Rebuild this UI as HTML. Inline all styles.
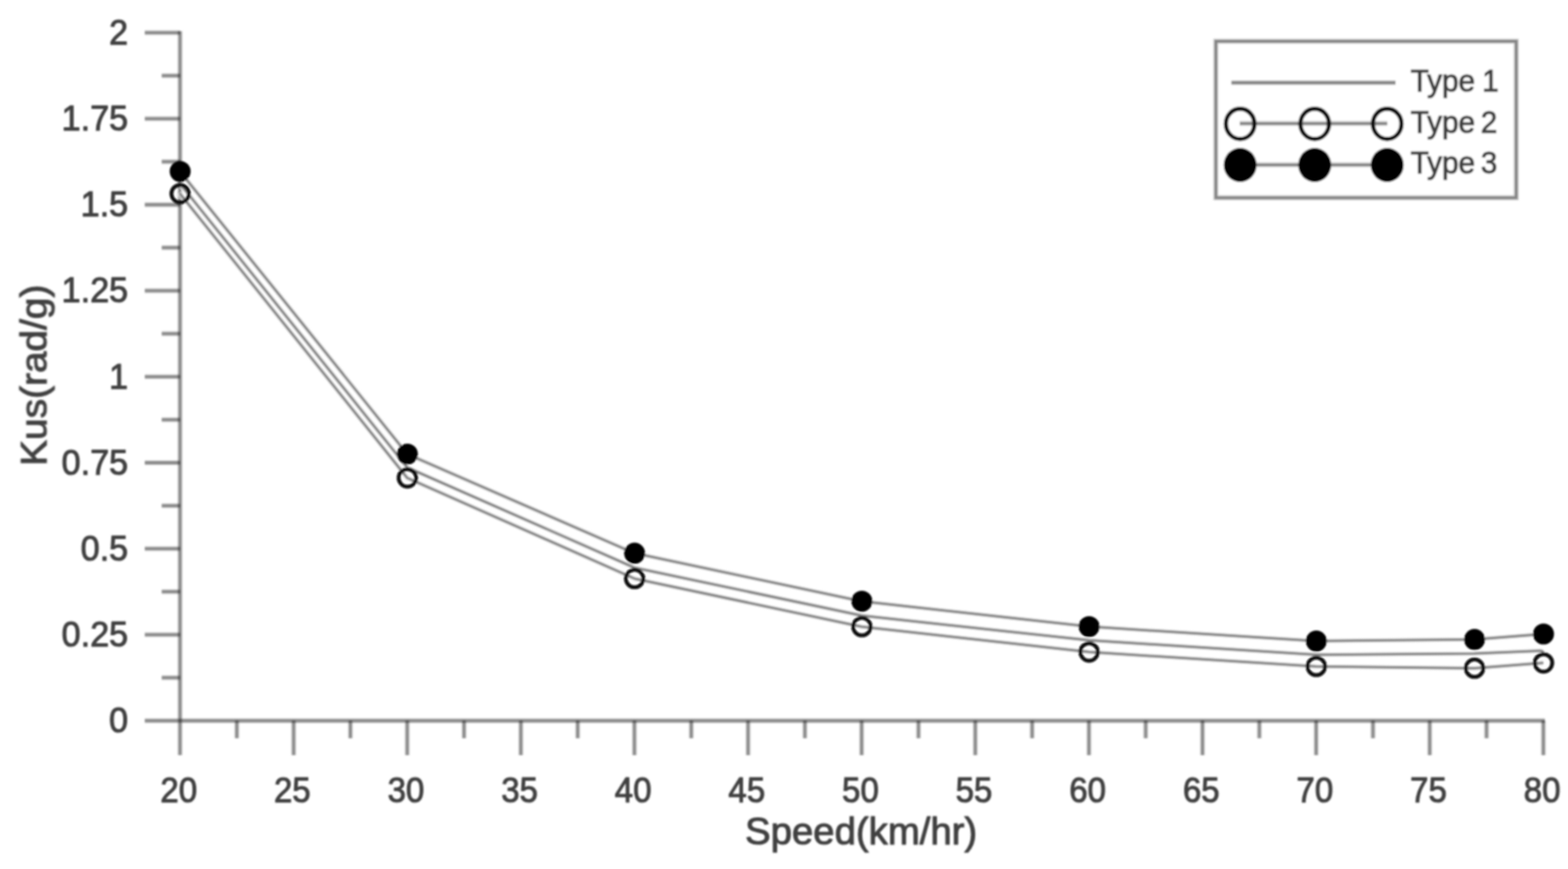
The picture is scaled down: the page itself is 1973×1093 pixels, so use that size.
<!DOCTYPE html>
<html lang="en">
<head>
<meta charset="utf-8">
<title>Kus vs Speed</title>
<style>
html,body{margin:0;padding:0;background:#fff;}
body{width:1973px;height:1093px;overflow:hidden;}
svg{display:block;}
text{font-family:"Liberation Sans",sans-serif;fill:#404040;stroke:#404040;stroke-width:1.2px;stroke-linejoin:round;}
.tick{font-size:45.2px;}
.xtick{font-size:44.5px;}
.ylab{font-size:46.7px;}
.lab{font-size:48.2px;}
.leg{font-size:38.0px;word-spacing:-3.2px;}
.leg1{word-spacing:-1.4px;}
</style>
</head>
<body>
<svg width="1973" height="1093" viewBox="0 0 1973 1093">
<defs><filter id="soft" x="-2%" y="-2%" width="104%" height="104%"><feGaussianBlur stdDeviation="1.2"/></filter></defs>
<rect x="0" y="0" width="1973" height="1093" fill="#ffffff"/>
<g filter="url(#soft)">
<g fill="none" stroke="#000000" stroke-opacity="0.15" stroke-width="6.6">
<line x1="226.5" y1="39.2" x2="226.5" y2="949.8"/>
<line x1="182.2" y1="906.5" x2="1943.9" y2="906.5"/>
<line x1="203.5" y1="852.4" x2="226.5" y2="852.4"/>
<line x1="182.2" y1="798.3" x2="226.5" y2="798.3"/>
<line x1="203.5" y1="744.2" x2="226.5" y2="744.2"/>
<line x1="182.2" y1="690.1" x2="226.5" y2="690.1"/>
<line x1="203.5" y1="636.1" x2="226.5" y2="636.1"/>
<line x1="182.2" y1="582.0" x2="226.5" y2="582.0"/>
<line x1="203.5" y1="527.9" x2="226.5" y2="527.9"/>
<line x1="182.2" y1="473.8" x2="226.5" y2="473.8"/>
<line x1="203.5" y1="419.7" x2="226.5" y2="419.7"/>
<line x1="182.2" y1="365.6" x2="226.5" y2="365.6"/>
<line x1="203.5" y1="311.5" x2="226.5" y2="311.5"/>
<line x1="182.2" y1="257.5" x2="226.5" y2="257.5"/>
<line x1="203.5" y1="203.4" x2="226.5" y2="203.4"/>
<line x1="182.2" y1="149.3" x2="226.5" y2="149.3"/>
<line x1="203.5" y1="95.2" x2="226.5" y2="95.2"/>
<line x1="182.2" y1="41.1" x2="226.5" y2="41.1"/>
<line x1="298.0" y1="906.5" x2="298.0" y2="928.5"/>
<line x1="369.5" y1="906.5" x2="369.5" y2="949.8"/>
<line x1="440.9" y1="906.5" x2="440.9" y2="928.5"/>
<line x1="512.4" y1="906.5" x2="512.4" y2="949.8"/>
<line x1="583.9" y1="906.5" x2="583.9" y2="928.5"/>
<line x1="655.4" y1="906.5" x2="655.4" y2="949.8"/>
<line x1="726.9" y1="906.5" x2="726.9" y2="928.5"/>
<line x1="798.3" y1="906.5" x2="798.3" y2="949.8"/>
<line x1="869.8" y1="906.5" x2="869.8" y2="928.5"/>
<line x1="941.3" y1="906.5" x2="941.3" y2="949.8"/>
<line x1="1012.8" y1="906.5" x2="1012.8" y2="928.5"/>
<line x1="1084.2" y1="906.5" x2="1084.2" y2="949.8"/>
<line x1="1155.7" y1="906.5" x2="1155.7" y2="928.5"/>
<line x1="1227.2" y1="906.5" x2="1227.2" y2="949.8"/>
<line x1="1298.7" y1="906.5" x2="1298.7" y2="928.5"/>
<line x1="1370.2" y1="906.5" x2="1370.2" y2="949.8"/>
<line x1="1441.6" y1="906.5" x2="1441.6" y2="928.5"/>
<line x1="1513.1" y1="906.5" x2="1513.1" y2="949.8"/>
<line x1="1584.6" y1="906.5" x2="1584.6" y2="928.5"/>
<line x1="1656.1" y1="906.5" x2="1656.1" y2="949.8"/>
<line x1="1727.6" y1="906.5" x2="1727.6" y2="928.5"/>
<line x1="1799.0" y1="906.5" x2="1799.0" y2="949.8"/>
<line x1="1870.5" y1="906.5" x2="1870.5" y2="928.5"/>
<line x1="1942.0" y1="906.5" x2="1942.0" y2="949.8"/>
</g>
<g fill="none" stroke="#000000" stroke-opacity="0.36" stroke-width="3.8">
<line x1="226.5" y1="39.2" x2="226.5" y2="949.8"/>
<line x1="182.2" y1="906.5" x2="1943.9" y2="906.5"/>
<line x1="203.5" y1="852.4" x2="226.5" y2="852.4"/>
<line x1="182.2" y1="798.3" x2="226.5" y2="798.3"/>
<line x1="203.5" y1="744.2" x2="226.5" y2="744.2"/>
<line x1="182.2" y1="690.1" x2="226.5" y2="690.1"/>
<line x1="203.5" y1="636.1" x2="226.5" y2="636.1"/>
<line x1="182.2" y1="582.0" x2="226.5" y2="582.0"/>
<line x1="203.5" y1="527.9" x2="226.5" y2="527.9"/>
<line x1="182.2" y1="473.8" x2="226.5" y2="473.8"/>
<line x1="203.5" y1="419.7" x2="226.5" y2="419.7"/>
<line x1="182.2" y1="365.6" x2="226.5" y2="365.6"/>
<line x1="203.5" y1="311.5" x2="226.5" y2="311.5"/>
<line x1="182.2" y1="257.5" x2="226.5" y2="257.5"/>
<line x1="203.5" y1="203.4" x2="226.5" y2="203.4"/>
<line x1="182.2" y1="149.3" x2="226.5" y2="149.3"/>
<line x1="203.5" y1="95.2" x2="226.5" y2="95.2"/>
<line x1="182.2" y1="41.1" x2="226.5" y2="41.1"/>
<line x1="298.0" y1="906.5" x2="298.0" y2="928.5"/>
<line x1="369.5" y1="906.5" x2="369.5" y2="949.8"/>
<line x1="440.9" y1="906.5" x2="440.9" y2="928.5"/>
<line x1="512.4" y1="906.5" x2="512.4" y2="949.8"/>
<line x1="583.9" y1="906.5" x2="583.9" y2="928.5"/>
<line x1="655.4" y1="906.5" x2="655.4" y2="949.8"/>
<line x1="726.9" y1="906.5" x2="726.9" y2="928.5"/>
<line x1="798.3" y1="906.5" x2="798.3" y2="949.8"/>
<line x1="869.8" y1="906.5" x2="869.8" y2="928.5"/>
<line x1="941.3" y1="906.5" x2="941.3" y2="949.8"/>
<line x1="1012.8" y1="906.5" x2="1012.8" y2="928.5"/>
<line x1="1084.2" y1="906.5" x2="1084.2" y2="949.8"/>
<line x1="1155.7" y1="906.5" x2="1155.7" y2="928.5"/>
<line x1="1227.2" y1="906.5" x2="1227.2" y2="949.8"/>
<line x1="1298.7" y1="906.5" x2="1298.7" y2="928.5"/>
<line x1="1370.2" y1="906.5" x2="1370.2" y2="949.8"/>
<line x1="1441.6" y1="906.5" x2="1441.6" y2="928.5"/>
<line x1="1513.1" y1="906.5" x2="1513.1" y2="949.8"/>
<line x1="1584.6" y1="906.5" x2="1584.6" y2="928.5"/>
<line x1="1656.1" y1="906.5" x2="1656.1" y2="949.8"/>
<line x1="1727.6" y1="906.5" x2="1727.6" y2="928.5"/>
<line x1="1799.0" y1="906.5" x2="1799.0" y2="949.8"/>
<line x1="1870.5" y1="906.5" x2="1870.5" y2="928.5"/>
<line x1="1942.0" y1="906.5" x2="1942.0" y2="949.8"/>
</g>
<g>
<text class="tick" transform="translate(161.20,921.20) scale(0.9505,1)" text-anchor="end">0</text>
<text class="tick" transform="translate(161.20,813.03) scale(0.9505,1)" text-anchor="end">0.25</text>
<text class="tick" transform="translate(161.20,704.85) scale(0.9505,1)" text-anchor="end">0.5</text>
<text class="tick" transform="translate(161.20,596.68) scale(0.9505,1)" text-anchor="end">0.75</text>
<text class="tick" transform="translate(161.20,488.50) scale(0.9505,1)" text-anchor="end">1</text>
<text class="tick" transform="translate(161.20,380.32) scale(0.9505,1)" text-anchor="end">1.25</text>
<text class="tick" transform="translate(161.20,272.15) scale(0.9505,1)" text-anchor="end">1.5</text>
<text class="tick" transform="translate(161.20,163.97) scale(0.9505,1)" text-anchor="end">1.75</text>
<text class="tick" transform="translate(161.20,55.80) scale(0.9505,1)" text-anchor="end">2</text>
<text class="xtick" transform="translate(224.90,1009.40) scale(0.9340,1)" text-anchor="middle">20</text>
<text class="xtick" transform="translate(367.86,1009.40) scale(0.9340,1)" text-anchor="middle">25</text>
<text class="xtick" transform="translate(510.82,1009.40) scale(0.9340,1)" text-anchor="middle">30</text>
<text class="xtick" transform="translate(653.77,1009.40) scale(0.9340,1)" text-anchor="middle">35</text>
<text class="xtick" transform="translate(796.73,1009.40) scale(0.9340,1)" text-anchor="middle">40</text>
<text class="xtick" transform="translate(939.69,1009.40) scale(0.9340,1)" text-anchor="middle">45</text>
<text class="xtick" transform="translate(1082.65,1009.40) scale(0.9340,1)" text-anchor="middle">50</text>
<text class="xtick" transform="translate(1225.61,1009.40) scale(0.9340,1)" text-anchor="middle">55</text>
<text class="xtick" transform="translate(1368.57,1009.40) scale(0.9340,1)" text-anchor="middle">60</text>
<text class="xtick" transform="translate(1511.53,1009.40) scale(0.9340,1)" text-anchor="middle">65</text>
<text class="xtick" transform="translate(1654.48,1009.40) scale(0.9340,1)" text-anchor="middle">70</text>
<text class="xtick" transform="translate(1797.44,1009.40) scale(0.9340,1)" text-anchor="middle">75</text>
<text class="xtick" transform="translate(1940.40,1009.40) scale(0.9340,1)" text-anchor="middle">80</text>
</g>
<text class="lab" transform="translate(1083.60,1062.30)" text-anchor="middle" textLength="292" lengthAdjust="spacingAndGlyphs">Speed(km/hr)</text>
<text class="ylab" transform="translate(58.50,471.90) rotate(-90)" text-anchor="middle" textLength="228" lengthAdjust="spacingAndGlyphs">Kus(rad/g)</text>
<g stroke="#d6d6d6" stroke-width="5.0" fill="none" stroke-linejoin="round">
<polyline points="226.5,231.0 512.4,588.0 798.3,714.0 1084.2,774.3 1370.2,805.3 1656.1,823.5 1855.2,822.0 1939.0,818.6"/>
<path d="M1939.0 818.6q2.4 0.4 3.0 3.4"/>
<polyline points="226.5,243.6 512.4,601.1 798.3,727.7 1084.2,788.2 1370.2,820.1 1656.1,838.2 1855.2,840.4 1942.0,833.8"/>
<polyline points="226.5,215.6 512.4,571.1 798.3,695.8 1084.2,756.2 1370.2,788.1 1656.1,806.3 1855.2,804.3 1942.0,797.4"/>
</g>
<g stroke="#7a7a7a" stroke-width="2.5" fill="none" stroke-linejoin="round">
<polyline points="226.5,231.0 512.4,588.0 798.3,714.0 1084.2,774.3 1370.2,805.3 1656.1,823.5 1855.2,822.0 1939.0,818.6"/>
<path d="M1939.0 818.6q2.4 0.4 3.0 3.4"/>
<polyline points="226.5,243.6 512.4,601.1 798.3,727.7 1084.2,788.2 1370.2,820.1 1656.1,838.2 1855.2,840.4 1942.0,833.8"/>
<polyline points="226.5,215.6 512.4,571.1 798.3,695.8 1084.2,756.2 1370.2,788.1 1656.1,806.3 1855.2,804.3 1942.0,797.4"/>
</g>
<g fill="none" stroke="#0a0a0a" stroke-width="4.8">
<circle cx="226.7" cy="243.6" r="11.0"/>
<circle cx="512.6" cy="601.1" r="11.0"/>
<circle cx="798.5" cy="727.7" r="11.0"/>
<circle cx="1084.5" cy="788.2" r="11.0"/>
<circle cx="1370.4" cy="820.1" r="11.0"/>
<circle cx="1656.3" cy="838.2" r="11.0"/>
<circle cx="1855.4" cy="840.4" r="11.0"/>
<circle cx="1942.2" cy="833.8" r="11.0"/>
</g>
<g fill="#000000">
<circle cx="226.7" cy="215.6" r="13.2"/>
<circle cx="512.6" cy="571.1" r="13.2"/>
<circle cx="798.5" cy="695.8" r="13.2"/>
<circle cx="1084.5" cy="756.2" r="13.2"/>
<circle cx="1370.4" cy="788.1" r="13.2"/>
<circle cx="1656.3" cy="806.3" r="13.2"/>
<circle cx="1855.4" cy="804.3" r="13.2"/>
<circle cx="1942.2" cy="797.4" r="13.2"/>
</g>
<rect x="1529.9" y="51.9" width="377.9" height="196.8" fill="#ffffff" stroke="#d4d4d4" stroke-width="6.6"/>
<rect x="1529.9" y="51.9" width="377.9" height="196.8" fill="none" stroke="#858585" stroke-width="3.8"/>
<g stroke="#c2c2c2" stroke-width="6.0" fill="none">
<line x1="1549.5" y1="104.0" x2="1756" y2="104.0"/>
<line x1="1560" y1="155.3" x2="1745.5" y2="155.3"/>
<line x1="1560" y1="207.3" x2="1745.5" y2="207.3"/>
</g>
<g stroke="#7c7c7c" stroke-width="2.8" fill="none">
<line x1="1549.5" y1="104.0" x2="1756" y2="104.0"/>
<line x1="1560" y1="155.3" x2="1745.5" y2="155.3"/>
<line x1="1560" y1="207.3" x2="1745.5" y2="207.3"/>
</g>
<g fill="none" stroke="#0a0a0a" stroke-width="5.4">
<ellipse cx="1560.5" cy="155.8" rx="18.0" ry="19.0"/>
<ellipse cx="1654.3" cy="155.8" rx="18.0" ry="19.0"/>
<ellipse cx="1745.5" cy="155.8" rx="18.0" ry="19.0"/>
</g>
<g fill="#000000">
<ellipse cx="1560.5" cy="207.5" rx="20.7" ry="21.4"/>
<ellipse cx="1654.3" cy="207.5" rx="20.7" ry="21.4"/>
<ellipse cx="1745.5" cy="207.5" rx="20.7" ry="21.4"/>
</g>
<g>
<text class="leg leg1" transform="translate(1775.00,115.40) scale(0.9840,1)" text-anchor="start">Type 1</text>
<text class="leg" transform="translate(1775.00,166.70) scale(0.9840,1)" text-anchor="start">Type 2</text>
<text class="leg" transform="translate(1775.00,218.00) scale(0.9840,1)" text-anchor="start">Type 3</text>
</g>
</g>
</svg>
</body>
</html>
